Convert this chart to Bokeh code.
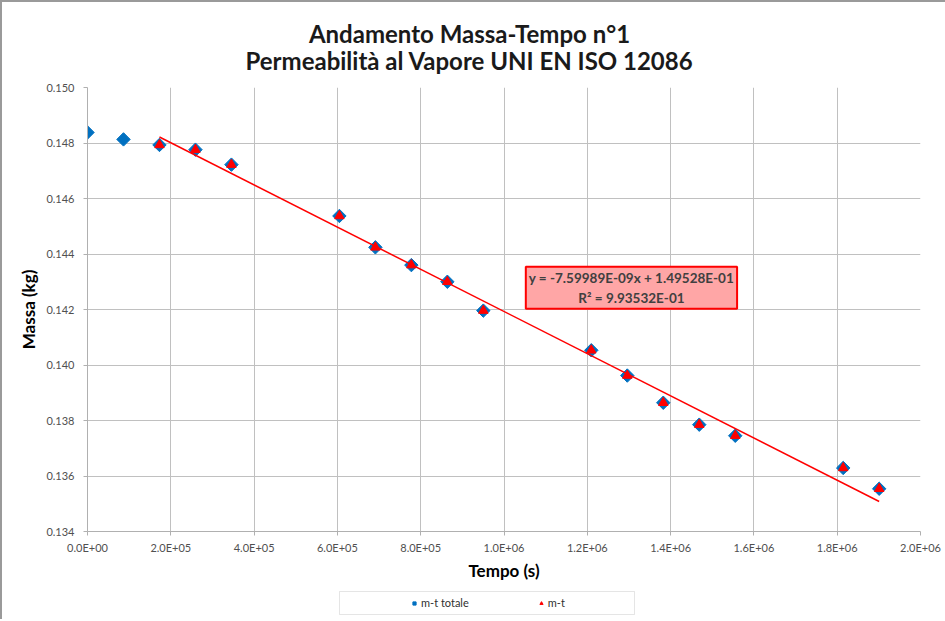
import math
from bokeh.plotting import figure
from bokeh.layouts import column
from bokeh.models import (Range1d, FixedTicker, CustomJSTickFormatter, PrintfTickFormatter,
                          Label, Legend, LegendItem, BoxAnnotation)
from bokeh.embed import file_html
from bokeh.resources import INLINE

# ---- texts ----
title_line1 = "Andamento Massa-Tempo n°1"
title_line2 = "Permeabilità al Vapore UNI EN ISO 12086"
x_label = "Tempo (s)"
y_label = "Massa (kg)"
series_names = ["m-t totale", "m-t"]
eq_text = "y = -7.59989E-09x + 1.49528E-01\nR² = 9.93532E-01"

# ---- data ----
tempo = [0, 86400, 172800, 259200, 345600, 604800, 691200, 777600, 864000,
         950400, 1209600, 1296000, 1382400, 1468800, 1555200, 1814400, 1900800]
massa_totale = [0.14838, 0.14813, 0.14793, 0.14776, 0.14722, 0.14537, 0.14424,
                0.14360, 0.14300, 0.14196, 0.14053, 0.13962, 0.13864, 0.13785,
                0.13745, 0.13629, 0.13554]
tempo_mt = tempo[2:]
massa_mt = massa_totale[2:]

slope = -7.59989e-09
intercept = 1.49528e-01

x_ticks = [0, 200000, 400000, 600000, 800000, 1000000, 1200000, 1400000,
           1600000, 1800000, 2000000]
y_ticks = [0.134, 0.136, 0.138, 0.140, 0.142, 0.144, 0.146, 0.148, 0.150]

trend_x = [min(tempo_mt), max(tempo_mt)]
trend_y = [slope * t + intercept for t in trend_x]

FONT = "Lato"
W = 943
BORDER_L = 85
BORDER_R = 25
BLUE = "#0070c0"
RED = "#ff0000"


def blank_figure(h):
    # frames in a column are aligned with the main plot's frame, so the
    # x range is expressed in canvas pixels of that aligned frame
    f = figure(width=W, height=h, output_backend="svg", toolbar_location=None,
               x_range=Range1d(BORDER_L, W - BORDER_R), y_range=Range1d(h, 0),
               x_axis_location=None, y_axis_location=None,
               min_border_left=0, min_border_right=0, min_border_top=0,
               min_border_bottom=0)
    f.grid.visible = False
    f.outline_line_color = None
    f.background_fill_color = "white"
    f.border_fill_color = "white"
    return f


# ---------- title figure ----------
pt = blank_figure(75)
for txt, yy in ((title_line1, 31), (title_line2, 58)):
    pt.add_layout(Label(x=467, y=yy, text=txt, text_align="center",
                        text_baseline="middle", text_font=FONT,
                        text_font_style="bold", text_font_size="24px",
                        text_color="#1a1a1a"))

# ---------- main figure ----------
p = figure(width=W, height=506, output_backend="svg", toolbar_location=None,
           x_range=Range1d(0, 2000000), y_range=Range1d(0.134, 0.150),
           min_border_left=BORDER_L, min_border_right=BORDER_R, min_border_top=10,
           min_border_bottom=52)
p.outline_line_color = None
p.background_fill_color = "white"
p.border_fill_color = "white"

for ax in (p.xaxis[0], p.yaxis[0]):
    ax.axis_line_color = "#b0b0b0"
    ax.major_tick_line_color = "#b0b0b0"
    ax.major_tick_out = 4
    ax.major_tick_in = 0
    ax.minor_tick_line_color = None
    ax.major_label_text_font = FONT
    ax.major_label_text_font_size = "11px"
    ax.major_label_text_color = "#505050"
    ax.axis_label_text_font = FONT
    ax.axis_label_text_font_style = "bold"
    ax.axis_label_text_font_size = "17px"
    ax.axis_label_text_color = "#000000"

p.xaxis.ticker = FixedTicker(ticks=x_ticks)
p.yaxis.ticker = FixedTicker(ticks=y_ticks)
p.xgrid.ticker = FixedTicker(ticks=x_ticks)
p.ygrid.ticker = FixedTicker(ticks=y_ticks)
p.xaxis.formatter = CustomJSTickFormatter(code="""
const s = tick.toExponential(1);
const parts = s.split('e');
const sign = parts[1][0];
let d = parts[1].slice(1);
if (d.length < 2) { d = '0' + d; }
return parts[0] + 'E' + sign + d;
""")
p.yaxis.formatter = PrintfTickFormatter(format="%.3f")
p.xaxis.major_label_standoff = 5
p.yaxis.major_label_standoff = 9
p.xaxis.axis_label = x_label
p.yaxis.axis_label = y_label
p.xaxis.axis_label_standoff = 3
p.yaxis.axis_label_standoff = 4

p.grid.grid_line_color = "#c0c0c0"
p.grid.grid_line_width = 1

p.scatter(tempo, massa_totale, marker="square", angle=math.pi / 4, size=9.5,
          color=BLUE)
p.scatter(tempo_mt, massa_mt, marker="triangle", size=9.5, color=RED)
p.line(trend_x, trend_y, line_color=RED, line_width=1.5)

p.add_layout(Label(x=1306000, y=0.142786, text=eq_text,
                   text_align="center", text_baseline="middle",
                   text_font=FONT, text_font_style="bold", text_font_size="13.5px",
                   text_line_height=1.25,
                   text_color="#404040", background_fill_color="#ffa6a6",
                   border_line_color=RED, border_line_width=2, padding=3))

# ---------- legend figure ----------
pl = blank_figure(36)
pl.add_layout(BoxAnnotation(left=337, right=632, top=8, bottom=31,
                            fill_color="white", fill_alpha=1,
                            line_color="#a8a8a8", line_width=1))
# legend glyph renderers: the series' last points, far outside this strip's range
r_leg1 = pl.scatter(tempo[-1:], massa_totale[-1:], marker="square",
                    angle=math.pi / 4, size=6.5, color=BLUE)
r_leg2 = pl.scatter(tempo_mt[-1:], massa_mt[-1:], marker="triangle", size=7.5,
                    color=RED)
legend = Legend(items=[LegendItem(label=series_names[0], renderers=[r_leg1]),
                       LegendItem(label=series_names[1], renderers=[r_leg2])],
                location=(408 - BORDER_L, 10), margin=0, orientation="horizontal",
                glyph_width=8, glyph_height=12, label_height=12,
                label_standoff=3, spacing=68, padding=0,
                border_line_alpha=0, background_fill_alpha=0,
                label_text_font=FONT, label_text_font_size="11px",
                label_text_color="#303030")
pl.add_layout(legend)

layout = column(pt, p, pl, spacing=0)
layout.styles = {"border-top": "2px solid #9a9a9a", "border-left": "2px solid #9a9a9a"}

open("out.html", "w").write(file_html(layout, INLINE))
